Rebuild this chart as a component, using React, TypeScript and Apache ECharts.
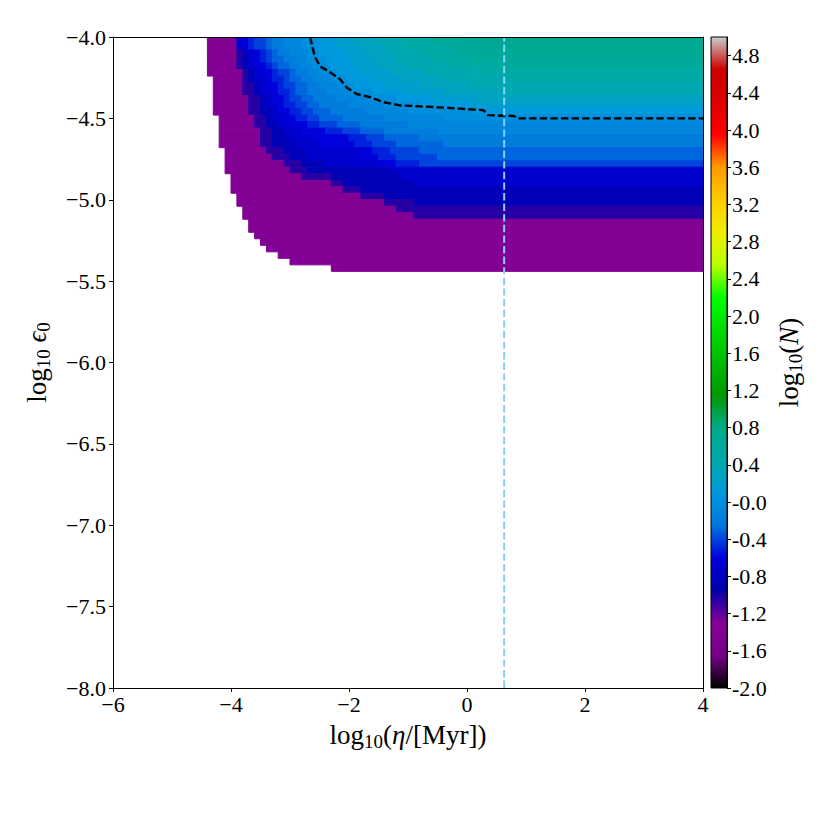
import React, { useEffect, useRef } from "react";
import * as echarts from "echarts";

// ---------- axes ----------
const xTicks = [-6, -4, -2, 0, 2, 4];
const xTickLabels = ["\u22126", "\u22124", "\u22122", "0", "2", "4"];
const yTicks = [-8, -7.5, -7, -6.5, -6, -5.5, -5, -4.5, -4];
const yTickLabels = ["\u22128.0", "\u22127.5", "\u22127.0", "\u22126.5", "\u22126.0", "\u22125.5", "\u22125.0", "\u22124.5", "\u22124.0"];
const cbTicks = [-2.0, -1.6, -1.2, -0.8, -0.4, 0.0, 0.4, 0.8, 1.2, 1.6, 2.0, 2.4, 2.8, 3.2, 3.6, 4.0, 4.4, 4.8];
const cbTickLabels = ["-2.0", "-1.6", "-1.2", "-0.8", "-0.4", "-0.0", "0.4", "0.8", "1.2", "1.6", "2.0", "2.4", "2.8", "3.2", "3.6", "4.0", "4.4", "4.8"];

// ---------- colormap (nipy_spectral) ----------
const nipySpectral = [
  "#000000", "#770088", "#880099", "#0000aa", "#0000dd", "#0077dd", "#0099dd",
  "#00aaaa", "#00aa88", "#009900", "#00bb00", "#00dd00", "#00ff00", "#bbff00",
  "#eeee00", "#ffcc00", "#ff9900", "#ff0000", "#dd0000", "#cc0000", "#cccccc",
];

// ---------- grid of the map: columns of 0.1 dex in eta, rows of 0.04 dex in eps (row 0 at top, y=-4) ----------
const X_MIN = -6;
const Y_TOP = -4;
const COL_W = 0.1;
const ROW_H = 0.04;
const N_COLS = 100;

// first filled column of each row (rows 0..35)
const rowLeftCol = [
  16, 16, 16, 16, 16, 16, 17, 17, 17, 17, 17, 17, 18, 18, 18, 18, 18, 19,
  19, 19, 19, 20, 20, 20, 21, 21, 22, 22, 23, 23, 24, 25, 26, 28, 30, 37,
];

// value of each band of log10(N): band 0 from the left edge, band k from bandStartCols[row][k-1]
const bandValues = [-1.4, -1.05, -0.85, -0.7, -0.6, -0.5, -0.4, -0.3, -0.2, -0.1, 0.0, 0.1, 0.2, 0.3, 0.4, 0.5, 0.6, 0.7];

const bandStartCols: number[][] = [
  [21, 21, 21, 22, 23, 24, 26, 27, 29, 32, 35, 38, 41, 45, 49, 54, 61],
  [21, 21, 21, 22, 23, 24, 26, 27, 29, 32, 35, 38, 42, 46, 50, 56, 64],
  [21, 22, 23, 24, 25, 26, 27, 28, 30, 33, 35, 39, 43, 47, 52, 58, 68],
  [21, 22, 23, 24, 25, 26, 27, 29, 31, 33, 36, 40, 44, 48, 54, 61],
  [21, 22, 23, 24, 26, 27, 28, 30, 32, 34, 37, 41, 45, 50, 57, 66],
  [22, 23, 24, 25, 27, 28, 30, 31, 33, 35, 38, 42, 47, 53, 62],
  [22, 23, 24, 26, 27, 29, 30, 32, 34, 37, 40, 44, 49, 56, 67],
  [22, 24, 25, 26, 28, 29, 31, 33, 35, 38, 41, 46, 52, 60],
  [22, 24, 25, 27, 28, 30, 31, 33, 36, 40, 44, 49, 56, 66],
  [23, 25, 26, 27, 29, 30, 32, 34, 38, 43, 48, 54, 62],
  [23, 25, 26, 28, 29, 31, 33, 35, 40, 46, 52, 61],
  [23, 25, 27, 28, 30, 32, 34, 37, 43, 50, 61],
  [24, 26, 27, 29, 31, 33, 35, 39, 46, 56],
  [24, 26, 28, 30, 33, 35, 38, 42, 50],
  [25, 27, 29, 32, 36, 39, 42, 46, 55],
  [25, 27, 30, 34, 40, 43, 46, 52],
  [25, 27, 31, 35, 41, 44, 48, 56],
  [26, 29, 32, 42, 44, 47, 52],
  [27, 30, 33, 42, 45, 48, 55],
  [29, 32, 36, 45, 48, 52],
  [30, 33, 47],
  [32, 37, 49],
  [37, 39, 51],
  [39, 42],
  [42, 46],
  [46, 51],
  [48],
  [51],
  [], [], [], [], [], [], [], [],
];

// dashed contour
const contourX = [-2.66, -2.58, -2.49, -2.35, -2.15, -2.04, -1.87, -1.64, -1.42, -1.14, -0.58, -0.12, 0.28, 0.36, 0.79, 0.87, 4.0];
const contourY = [-4.0, -4.12, -4.18, -4.21, -4.26, -4.31, -4.35, -4.37, -4.40, -4.42, -4.43, -4.44, -4.45, -4.48, -4.485, -4.5, -4.5];

// vertical reference line
const refEta = 0.63;

const FONT = "Liberation Serif";

function buildCells() {
  const cells: number[][] = [];
  rowLeftCol.forEach((left, r) => {
    const starts = [left, ...bandStartCols[r]];
    const yTop = Y_TOP - r * ROW_H;
    const yBot = Y_TOP - (r + 1) * ROW_H;
    for (let k = 0; k < starts.length; k++) {
      const c0 = starts[k];
      const c1 = k + 1 < starts.length ? starts[k + 1] : N_COLS;
      if (c1 <= c0) continue;
      cells.push([X_MIN + c0 * COL_W, X_MIN + c1 * COL_W, yTop, yBot, bandValues[k]]);
    }
  });
  return cells;
}

function richName(size: number) {
  return {
    fontFamily: FONT, fontSize: size, color: "#000",
    rich: {
      a: { fontFamily: FONT, fontSize: size, color: "#000", lineHeight: size + 6 },
      i: { fontFamily: FONT, fontSize: size, color: "#000", fontStyle: "italic", lineHeight: size + 6 },
      s: { fontFamily: FONT, fontSize: Math.round(size * 0.7), color: "#000", verticalAlign: "bottom", lineHeight: Math.round(size * 0.7) },
    },
  };
}

export default function App() {
  const ref = useRef<HTMLDivElement>(null);
  useEffect(() => {
    if (!ref.current) return;
    const chart = echarts.init(ref.current, null, { renderer: "svg" });
    const labelStyle = { fontFamily: FONT, fontSize: 22, color: "#000" };
    const axisLine = { show: true, onZero: false, lineStyle: { color: "#000", width: 1 } };
    const cells = buildCells();
    const gradStops = nipySpectral.map((c, i) => ({ offset: i / (nipySpectral.length - 1), color: c }));

    chart.setOption({
      animation: false,
      backgroundColor: "#fff",
      grid: [
        { left: 113, top: 37, width: 590, height: 651 },
        { left: 711, top: 37, width: 16, height: 651 },
      ],
      visualMap: {
        type: "continuous",
        show: false,
        min: -2,
        max: 5,
        dimension: 4,
        seriesIndex: 0,
        inRange: { color: nipySpectral },
      },
      xAxis: [
        {
          type: "value", gridIndex: 0, min: -6, max: 4, interval: 2, position: "bottom", z: 10,
          axisLine, splitLine: { show: false },
          axisTick: { show: true, inside: false, length: 4, lineStyle: { color: "#000" } },
          axisLabel: { ...labelStyle, margin: 5, formatter: (v: number) => xTickLabels[xTicks.indexOf(v)] ?? "" },
          name: "{a|log}{s|10}{a|(}{i|\u03B7}{a|/[Myr])}",
          nameLocation: "middle",
          nameGap: 30,
          nameTextStyle: richName(27),
        },
        {
          type: "value", gridIndex: 0, min: -6, max: 4, position: "top", z: 10,
          axisLine, axisTick: { show: false }, axisLabel: { show: false }, splitLine: { show: false },
        },
        {
          type: "value", gridIndex: 1, min: 0, max: 1, show: false,
        },
      ],
      yAxis: [
        {
          type: "value", gridIndex: 0, min: -8, max: -4, interval: 0.5, position: "left", z: 10,
          axisLine, splitLine: { show: false },
          axisTick: { show: true, inside: false, length: 4, lineStyle: { color: "#000" } },
          axisLabel: { ...labelStyle, margin: 7, formatter: (v: number) => yTickLabels[yTicks.indexOf(v)] ?? "" },
          name: "{a|log}{s|10}{a| }{i|\u03F5}{s|0}",
          nameLocation: "middle",
          nameRotate: 90,
          nameGap: 60,
          nameTextStyle: richName(27),
        },
        {
          type: "value", gridIndex: 0, min: -8, max: -4, position: "right", z: 10,
          axisLine, axisTick: { show: false }, axisLabel: { show: false }, splitLine: { show: false },
        },
        {
          type: "value", gridIndex: 1, min: -2, max: 5, position: "right", z: 10,
          axisLine, splitLine: { show: false },
          axisTick: { show: true, inside: false, length: 4, lineStyle: { color: "#000" }, customValues: cbTicks },
          axisLabel: {
            ...labelStyle, margin: 5, customValues: cbTicks,
            formatter: (v: number) => {
              const idx = cbTicks.findIndex((t) => Math.abs(t - v) < 1e-6);
              return idx >= 0 ? cbTickLabels[idx] : "";
            },
          },
          name: "{a|log}{s|10}{a|(}{i|N}{a|)}",
          nameLocation: "middle",
          nameRotate: 90,
          nameGap: 45,
          nameTextStyle: richName(27),
        },
      ],
      graphic: [
        {
          type: "rect", z: 0,
          shape: { x: 711, y: 37, width: 16, height: 651 },
          style: { fill: new echarts.graphic.LinearGradient(0, 1, 0, 0, gradStops) },
        },
        {
          type: "rect", z: 20,
          shape: { x: 711, y: 37, width: 16, height: 651 },
          style: { fill: "rgba(0,0,0,0)", stroke: "#000", lineWidth: 1 },
        },
      ],
      series: [
        {
          type: "custom",
          xAxisIndex: 0,
          yAxisIndex: 0,
          silent: true,
          clip: true,
          z: 1,
          data: cells,
          encode: { x: [0, 1], y: [2, 3] },
          renderItem: (_params: any, api: any) => {
            const a = api.coord([api.value(0), api.value(2)]);
            const b = api.coord([api.value(1), api.value(3)]);
            const color = api.visual("color");
            return {
              type: "rect",
              shape: { x: a[0], y: a[1], width: b[0] - a[0], height: b[1] - a[1] },
              style: { fill: color, stroke: color, lineWidth: 1 },
            };
          },
        },
        {
          type: "line",
          xAxisIndex: 0,
          yAxisIndex: 0,
          silent: true,
          z: 5,
          symbol: "none",
          data: contourX.map((x, i) => [x, contourY[i]]),
          lineStyle: { color: "#000", width: 2.4, type: [7.4, 3.2] },
        },
        {
          type: "line",
          xAxisIndex: 0,
          yAxisIndex: 0,
          silent: true,
          z: 5,
          symbol: "none",
          data: [[refEta, -8], [refEta, -4]],
          lineStyle: { color: "#87CEFA", width: 2, type: [7.4, 3.2] },
        },
      ],
    });
    return () => chart.dispose();
  }, []);
  return (
    <div
      ref={ref}
      style={{ position: "fixed", left: 0, top: 0, width: 830, height: 830, background: "#fff" }}
    />
  );
}
